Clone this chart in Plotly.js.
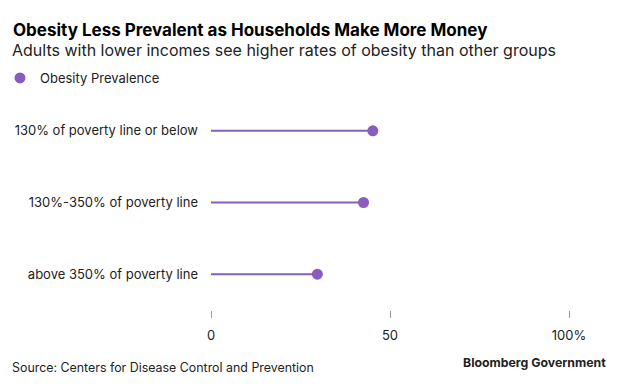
<!DOCTYPE html>
<html>
<head>
<meta charset="utf-8">
<script src="https://cdn.plot.ly/plotly-3.0.1.min.js"></script>
<style>html,body{margin:0;padding:0;background:#fff;}#chart{width:620px;height:387px;}</style>
</head>
<body>
<div id="chart"></div>
<script>
const categories = ["130% of poverty line or below", "130%-350% of poverty line", "above 350% of poverty line"];
const prevalence = [45.2, 42.6, 29.7];
const xTickVals = [0, 50, 100];
const xTickText = ["0", "50", "100%"];

const purple = "#8a5cbd";
const FONT = "Inter, Roboto, 'Liberation Sans', sans-serif";
const rowPos = categories.map((c, i) => categories.length - 1 - i);

const lineX = [], lineY = [];
prevalence.forEach((v, i) => { lineX.push(0, v, null); lineY.push(rowPos[i], rowPos[i], null); });

const traces = [
  {type: "scatter", mode: "lines", x: lineX, y: lineY, line: {color: purple, width: 2},
   showlegend: false, hoverinfo: "skip"},
  {type: "scatter", mode: "markers", name: "Obesity Prevalence", x: prevalence, y: rowPos,
   marker: {color: purple, size: 11}, cliponaxis: false}
];

const layout = {
  width: 620, height: 387,
  margin: {l: 211, r: 51, t: 95, b: 77},
  paper_bgcolor: "#fff", plot_bgcolor: "#fff",
  font: {family: FONT, color: "#222", size: 13},
  title: {text: "<b>Obesity Less Prevalent as Households Make More Money</b>",
    font: {family: FONT, size: 17, color: "#000"},
    xref: "container", yref: "container", x: 13/620, xanchor: "left", y: 1 - 30/387, yanchor: "middle"},
  showlegend: true,
  legend: {xref: "container", yref: "container", x: 0, y: 1 - 78/387, yanchor: "middle", xanchor: "left",
    font: {size: 13, color: "#222"}, bgcolor: "rgba(0,0,0,0)", itemclick: false},
  xaxis: {range: [0, 100], tickvals: xTickVals, ticktext: xTickText, showgrid: false, zeroline: false,
    showline: false, ticks: "outside", ticklen: 7, tickwidth: 1, tickcolor: "#999",
    tickfont: {size: 13, color: "#222"}, ticklabelstandoff: 6, fixedrange: true},
  yaxis: {range: [-0.5, 2.5], tickvals: rowPos, ticktext: categories, showgrid: false, zeroline: false,
    showline: false, ticks: "", tickfont: {size: 13, color: "#222"}, ticklabelstandoff: 12, fixedrange: true},
  annotations: [
    {text: "Adults with lower incomes see higher rates of obesity than other groups", xref: "paper", yref: "paper",
     x: (10 - 211) / 358, y: 1 + (95 - 50) / 215, xanchor: "left", yanchor: "middle", showarrow: false,
     font: {size: 16, color: "#222", family: FONT}},
    {text: "Source: Centers for Disease Control and Prevention", xref: "paper", yref: "paper",
     x: (10 - 211) / 358, y: -(367 - 310) / 215, xanchor: "left", yanchor: "middle", showarrow: false,
     font: {size: 12.4, color: "#222", family: FONT}},
    {text: "<b>Bloomberg Government</b>", xref: "paper", yref: "paper",
     x: (608 - 211) / 358, y: -(362 - 310) / 215, xanchor: "right", yanchor: "middle", showarrow: false,
     font: {size: 12.3, color: "#222", family: FONT}}
  ]
};

Plotly.newPlot("chart", traces, layout, {displayModeBar: false, staticPlot: true});
</script>
</body>
</html>
